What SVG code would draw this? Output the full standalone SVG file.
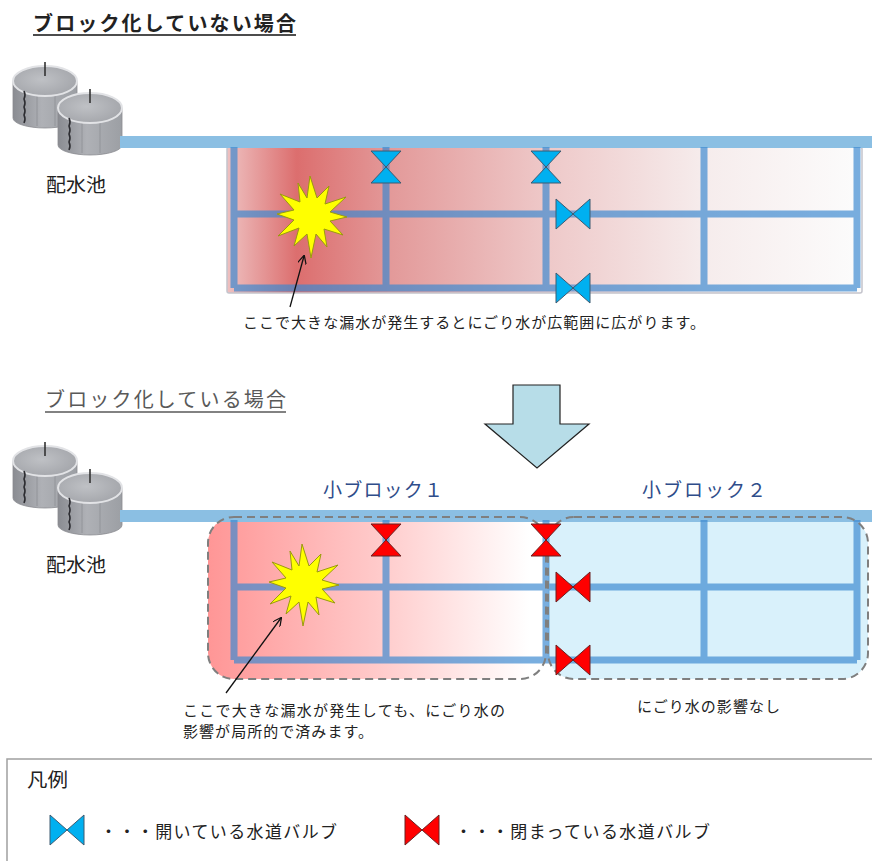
<svg xmlns="http://www.w3.org/2000/svg" xmlns:xlink="http://www.w3.org/1999/xlink" width="872" height="861" viewBox="0 0 872 861">
  <style>
    text { font-family: "Noto Sans CJK JP", "Noto Sans", sans-serif; fill: #222; }
    .title { font-size: 20px; }
    .cap { font-size: 15px; }
    .lbl { font-size: 19px; }
    .blk { font-size: 19px; fill: #2f4d8a; }
    .leg { font-size: 17px; }
    .main-pipe { stroke: #8bbfe3; stroke-width: 12; fill: none; }
    .pipe { stroke: #3a88d0; stroke-opacity: 0.68; stroke-width: 7; fill: none; }
    .open { fill: #00b0f0; stroke: #3d5a70; stroke-width: 1; }
    .shut { fill: #ff0000; stroke: #6a2020; stroke-width: 1; }
    .burst { fill: #ffff00; stroke: #9a9a10; stroke-width: 1; }
    .ptr { stroke: #111; stroke-width: 1.3; fill: none; marker-end: url(#head); }
    .zone { stroke: #7f7f7f; stroke-width: 2; stroke-dasharray: 8 5; fill: none; }
  </style>
  <defs>
    <linearGradient id="spread" x1="227" y1="0" x2="862" y2="0" gradientUnits="userSpaceOnUse">
      <stop offset="0" stop-color="#eec0c0"/>
      <stop offset="0.11" stop-color="#dc6e6e"/>
      <stop offset="0.26" stop-color="#e39a9a"/>
      <stop offset="0.5" stop-color="#eec8c8"/>
      <stop offset="0.75" stop-color="#f6ecec"/>
      <stop offset="1" stop-color="#fcfcfc"/>
    </linearGradient>
    <linearGradient id="local" x1="208" y1="0" x2="546" y2="0" gradientUnits="userSpaceOnUse">
      <stop offset="0" stop-color="#ff9696"/>
      <stop offset="0.5" stop-color="#ffcaca"/>
      <stop offset="0.95" stop-color="#ffffff"/>
    </linearGradient>
    <linearGradient id="tankBody" x1="0" y1="0" x2="1" y2="0">
      <stop offset="0" stop-color="#8a8c92"/>
      <stop offset="0.45" stop-color="#afb1b6"/>
      <stop offset="1" stop-color="#9c9fa4"/>
    </linearGradient>
    <radialGradient id="tankTop" cx="0.45" cy="0.45" r="0.6">
      <stop offset="0" stop-color="#bfc1c5"/>
      <stop offset="1" stop-color="#a3a5aa"/>
    </radialGradient>
    <marker id="head" viewBox="0 0 10 10" refX="9" refY="5" markerWidth="9" markerHeight="9" orient="auto" markerUnits="userSpaceOnUse">
      <path d="M0,0 L10,5 L0,10" fill="none" stroke="#111" stroke-width="1.4"/>
    </marker>
    <g id="tank">
      <path d="M-32,0 L-32,37 A32,10 0 0 0 32,37 L32,0 Z" fill="url(#tankBody)" stroke="#8a8c90" stroke-width="0.8"/>
      <path d="M-8,4 L-8,45 M10,4 L10,45" stroke="#8e9095" stroke-width="0.8"/>
      <ellipse cx="0" cy="0" rx="32" ry="15" fill="url(#tankTop)" stroke="#e2e3e6" stroke-width="2"/>
      <path d="M-21,10 q2,4 0,8 q2,4 0,8 q2,4 0,8 q2,4 0,8" stroke="#2b2b30" stroke-width="1.6" fill="none"/>
      <line x1="0" y1="-5" x2="0" y2="-19" stroke="#333" stroke-width="1.6"/>
    </g>
    <g id="valve-v">
      <polygon points="-15,-16 15,-16 0,0"/>
      <polygon points="-15,16 15,16 0,0"/>
    </g>
    <g id="valve-h">
      <polygon points="-17,-15 -17,15 0,0"/>
      <polygon points="17,-15 17,15 0,0"/>
    </g>
    <polygon id="star" points="-2,-40 5,-18 17,-30 13,-12 34,-19 18,-4 35,1 18,5 31,19 12,13 15,31 4,18 -1,42 -5,18 -18,30 -13,12 -34,20 -18,4 -35,-2 -18,-6 -32,-22 -12,-14 -14,-33 -5,-18"/>
  </defs>

  <!-- upper scenario: one large block -->
  <g id="title-unblocked">
    <text class="title" x="33" y="31" font-weight="bold" textLength="263" lengthAdjust="spacing">ブロック化していない場合</text>
    <line x1="33" y1="35" x2="296" y2="35" stroke="#111" stroke-width="1.6"/>
  </g>
  <g id="reservoir-top">
    <use xlink:href="#tank" transform="translate(45,81)"/>
    <use xlink:href="#tank" transform="translate(90,108)"/>
    <text class="lbl" x="46" y="192" textLength="60" lengthAdjust="spacingAndGlyphs">配水池</text>
  </g>
  <g id="area-top">
    <rect x="227" y="147" width="635" height="146" rx="2" fill="url(#spread)" stroke="#c4c4cc" stroke-width="1.5"/>
  </g>
  <g id="pipes-top">
    <line class="main-pipe" x1="120" y1="142" x2="872" y2="142"/>
    <path class="pipe" d="M234,147 V288 M386,147 V288 M546,147 V288 M704,147 V288 M857,147 V288 M234,214 H857 M234,288 H857"/>
  </g>
  <g id="valves-top" class="open">
    <use xlink:href="#valve-v" x="386" y="167"/>
    <use xlink:href="#valve-v" x="546" y="167"/>
    <use xlink:href="#valve-h" x="573" y="214"/>
    <use xlink:href="#valve-h" x="573" y="288"/>
  </g>
  <g id="leak-top">
    <use xlink:href="#star" class="burst" transform="translate(312,216)"/>
  </g>
  <g id="note-top">
    <text class="cap" x="243" y="328" textLength="462" lengthAdjust="spacing">ここで大きな漏水が発生するとにごり水が広範囲に広がります。</text>
  </g>

  <!-- transition arrow -->
  <g id="down-arrow">
    <polygon points="513,385 560,385 560,424 589,424 537,468 485,424 513,424" fill="#b7dde8" stroke="#222" stroke-width="1.2"/>
  </g>

  <!-- lower scenario: split into small blocks -->
  <g id="title-blocked">
    <text class="title" x="45" y="407" style="fill:#595959" textLength="241" lengthAdjust="spacing">ブロック化している場合</text>
    <line x1="45" y1="412" x2="286" y2="412" stroke="#595959" stroke-width="1.3"/>
  </g>
  <g id="reservoir-bottom">
    <use xlink:href="#tank" transform="translate(45,461)"/>
    <use xlink:href="#tank" transform="translate(90,488)"/>
    <text class="lbl" x="46" y="572" textLength="60" lengthAdjust="spacingAndGlyphs">配水池</text>
  </g>
  <g id="block-1">
    <rect x="208" y="517" width="338" height="162" rx="26" fill="url(#local)"/>
    <text class="blk" x="323" y="497" textLength="120" lengthAdjust="spacing">小ブロック１</text>
  </g>
  <g id="block-2">
    <rect x="548" y="517" width="320" height="162" rx="26" fill="#d9f1fb"/>
    <text class="blk" x="642" y="497" textLength="124" lengthAdjust="spacing">小ブロック２</text>
  </g>
  <g id="pipes-bottom">
    <line class="main-pipe" x1="120" y1="516" x2="872" y2="516"/>
    <path class="pipe" d="M234,520 V660 M386,520 V660 M546,520 V660 M704,520 V660 M857,520 V660 M234,587 H857 M234,660 H857"/>
  </g>
  <g id="block-outlines">
    <rect class="zone" x="208" y="517" width="338" height="162" rx="26"/>
    <rect class="zone" x="548" y="517" width="320" height="162" rx="26"/>
  </g>
  <g id="valves-bottom" class="shut">
    <use xlink:href="#valve-v" x="386" y="540"/>
    <use xlink:href="#valve-v" x="546" y="540"/>
    <use xlink:href="#valve-h" x="573" y="587"/>
    <use xlink:href="#valve-h" x="573" y="660"/>
  </g>
  <g id="leak-bottom">
    <use xlink:href="#star" class="burst" transform="translate(304,584)"/>
  </g>
  <g id="notes-bottom">
    <text class="cap" x="183" y="716" textLength="322" lengthAdjust="spacing">ここで大きな漏水が発生しても、にごり水の</text>
    <text class="cap" x="183" y="737" textLength="190" lengthAdjust="spacing">影響が局所的で済みます。</text>
    <text class="cap" x="637" y="712" textLength="143" lengthAdjust="spacing">にごり水の影響なし</text>
  </g>

  <!-- leader arrows pointing at the leaks -->
  <g id="connectors">
    <line class="ptr" x1="290" y1="307" x2="304" y2="256"/>
    <line class="ptr" x1="226" y1="693" x2="281" y2="618"/>
  </g>

  <!-- legend -->
  <g id="legend">
    <rect x="7" y="759" width="880" height="110" fill="#fff" stroke="#a0a0a0" stroke-width="1.5"/>
    <text class="lbl" x="27" y="787" textLength="41" lengthAdjust="spacingAndGlyphs">凡例</text>
    <use xlink:href="#valve-h" class="open" x="67" y="830"/>
    <text class="leg" x="100" y="838" textLength="237" lengthAdjust="spacing">・・・開いている水道バルブ</text>
    <use xlink:href="#valve-h" class="shut" x="422" y="830"/>
    <text class="leg" x="455" y="838" textLength="255" lengthAdjust="spacing">・・・閉まっている水道バルブ</text>
  </g>
</svg>
